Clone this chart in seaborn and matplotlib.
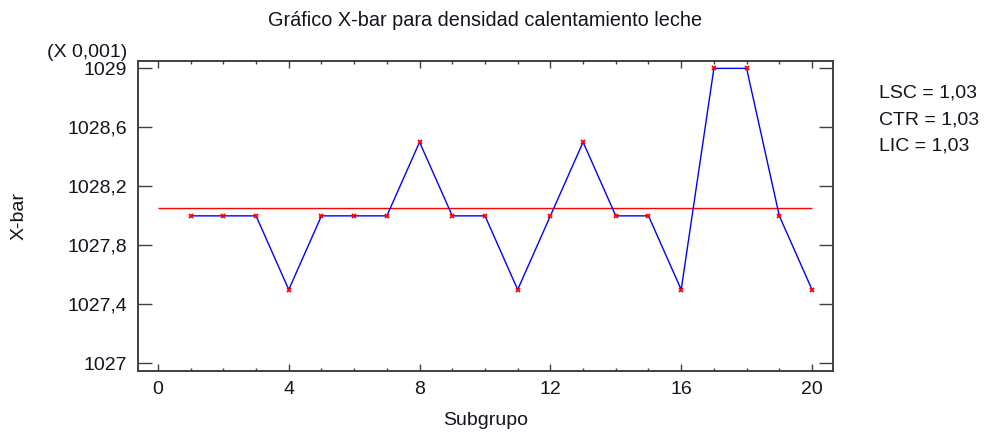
import matplotlib
matplotlib.use("Agg")
import matplotlib.pyplot as plt
from matplotlib.ticker import MultipleLocator, FixedLocator, FuncFormatter
import seaborn as sns
import pandas as pd

# ---- data ----
subgroups = list(range(1, 21))
xbar = [1028.0, 1028.0, 1028.0, 1027.5, 1028.0, 1028.0, 1028.0, 1028.5, 1028.0, 1028.0,
        1027.5, 1028.0, 1028.5, 1028.0, 1028.0, 1027.5, 1029.0, 1029.0, 1028.0, 1027.5]
center = 1028.05
y_ticks = [1027.0, 1027.4, 1027.8, 1028.2, 1028.6, 1029.0]
x_ticks = [0, 4, 8, 12, 16, 20]
limits_text = ["LSC = 1,03", "CTR = 1,03", "LIC = 1,03"]
title = "Gráfico X-bar para densidad calentamiento leche"
scale_text = "(X 0,001)"

sns.set_style("white")
plt.rcParams["font.family"] = ["Liberation Sans", "DejaVu Sans"]
plt.rcParams["font.size"] = 14

txt = "#141420"
spine_c = "#404040"

df = pd.DataFrame({"Subgrupo": subgroups, "X-bar": xbar})

fig = plt.figure(figsize=(9.89, 4.36), dpi=100)
ax = fig.add_axes([0.1392, 0.149, 0.703, 0.7118])

ax.hlines(center, min(x_ticks), max(x_ticks), color="#ff0000", linewidth=1.0, zorder=2)
sns.lineplot(data=df, x="Subgrupo", y="X-bar", ax=ax, color="#0000ff", linewidth=1.0,
             marker="x", markersize=3.5, markeredgecolor="#ff0000", markeredgewidth=1.3,
             markerfacecolor="#ff0000", zorder=3)

ax.set_xlim(-0.62, 20.64)
ax.set_ylim(1026.948, 1029.052)

ax.xaxis.set_major_locator(FixedLocator(x_ticks))
ax.xaxis.set_minor_locator(MultipleLocator(1))
ax.yaxis.set_major_locator(FixedLocator(y_ticks))
ax.yaxis.set_major_formatter(FuncFormatter(lambda v, p: (("%.1f" % v).rstrip("0").rstrip(".")).replace(".", ",")))

ax.tick_params(axis="x", which="major", direction="in", length=5, width=1.0, top=True,
               bottom=True, color=spine_c, labelcolor=txt, labelsize=14, pad=7.5)
ax.tick_params(axis="x", which="minor", direction="in", length=2.5, width=1.0, top=True,
               bottom=True, color=spine_c)
ax.tick_params(axis="y", which="major", direction="in", length=10, width=1.0, left=True,
               right=True, color=spine_c, labelcolor=txt, labelsize=14, pad=7.5)

for s in ax.spines.values():
    s.set_color(spine_c)
    s.set_linewidth(1.4)

ax.set_xlabel("Subgrupo", fontsize=14, color=txt, va="center")
ax.xaxis.set_label_coords(0.5, -0.16)
ax.set_ylabel("X-bar", fontsize=14, color=txt, va="center")
ax.yaxis.set_label_coords(-0.170, 0.5)

ax.set_title(title, fontsize=14.3, color=txt, y=1.131, va="center", pad=0)
ax.text(-0.0154, 1.026, scale_text, transform=ax.transAxes, ha="right", va="center",
        fontsize=14, color=txt)

ys = [0.7867, 0.7248, 0.6651]
for t, yy in zip(limits_text, ys):
    fig.text(0.8888, yy, t, ha="left", va="center", fontsize=14, color=txt)

fig.savefig("out.png", dpi=100)
